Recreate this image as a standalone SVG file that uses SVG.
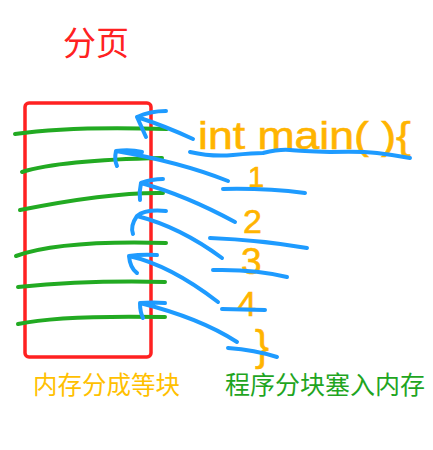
<svg xmlns="http://www.w3.org/2000/svg" width="433" height="450" viewBox="0 0 433 450">
<style>
.red{fill:none;stroke:#ff2121;stroke-width:3.5}
.grn{fill:none;stroke:#22aa22;stroke-width:4;stroke-linecap:round;stroke-linejoin:round}
.blu{fill:none;stroke:#1e9bff;stroke-width:4;stroke-linecap:round;stroke-linejoin:round}
.hw{font-family:"Liberation Sans",sans-serif;fill:#ffb400;stroke:#ffb400;stroke-width:0.6}
.cjk{font-family:"Noto Sans CJK SC",sans-serif}
</style>
<rect width="433" height="450" fill="#fff"/>
<g id="title"><text class="cjk" x="63" y="55" font-size="33" fill="#ff2121">分页</text></g>
<g id="memory">
<rect class="red" x="25" y="103" width="126" height="254" rx="4"/>
<path class="grn" d="M15,134 Q70,126 167,129"/>
<path class="grn" d="M22,172 Q60,160 162,158"/>
<path class="grn" d="M20,210 Q110,192 163,193"/>
<path class="grn" d="M16,256 Q60,240 166,243"/>
<path class="grn" d="M18,287 Q90,280 165,282"/>
<path class="grn" d="M18,324 Q60,315 165,317"/>
</g>
<g id="program">
<text class="hw" x="198" y="149" font-size="38" textLength="213" lengthAdjust="spacingAndGlyphs">int main( ){</text>
<path class="blu" d="M190,152 Q212,157 233,155 T263,153 Q280,149 290,150 T330,152 Q360,151 377,153 T410,158"/>
<text class="hw" x="248" y="187" font-size="29">1</text>
<path class="blu" d="M223,189 Q265,188 305,193"/>
<text class="hw" x="243" y="233" font-size="34">2</text>
<path class="blu" d="M210,238 Q260,240 307,248"/>
<text class="hw" x="241" y="274" font-size="37">3</text>
<path class="blu" d="M213,270 Q255,269 287,277"/>
<text class="hw" x="237" y="316" font-size="35">4</text>
<path class="blu" d="M222,309 L265,310"/>
<text class="hw" x="255" y="360" font-size="42">}</text>
<path class="blu" d="M228,348 Q255,350 277,357"/>
</g>
<g id="connectors">
<path class="blu" d="M193,139 Q165,126 137,117 M137,117 Q150,111 166,111 M137,117 Q142,128 146,137"/>
<path class="blu" d="M228,181 Q180,162 116,151 M116,151 Q130,149 142,152 M116,151 Q114,160 117,166"/>
<path class="blu" d="M235,222 Q185,195 141,183 M141,183 Q152,179 163,179 M141,183 Q139,192 140,200"/>
<path class="blu" d="M222,258 Q180,227 137,216 M137,216 Q145,209 166,211 M137,216 Q130,226 133,234"/>
<path class="blu" d="M218,302 Q170,265 129,256 M129,256 Q142,254 157,255 M129,256 Q130,268 137,273"/>
<path class="blu" d="M237,342 Q200,318 140,303 M140,303 Q152,302 165,303 M140,303 Q140,312 143,318"/>
</g>
<g id="labels">
<text class="cjk" x="33" y="394" font-size="24.5" fill="#ffc000">内存分成等块</text>
<text class="cjk" x="225" y="394" font-size="25" fill="#1fa51f">程序分块塞入内存</text>
</g>
</svg>
